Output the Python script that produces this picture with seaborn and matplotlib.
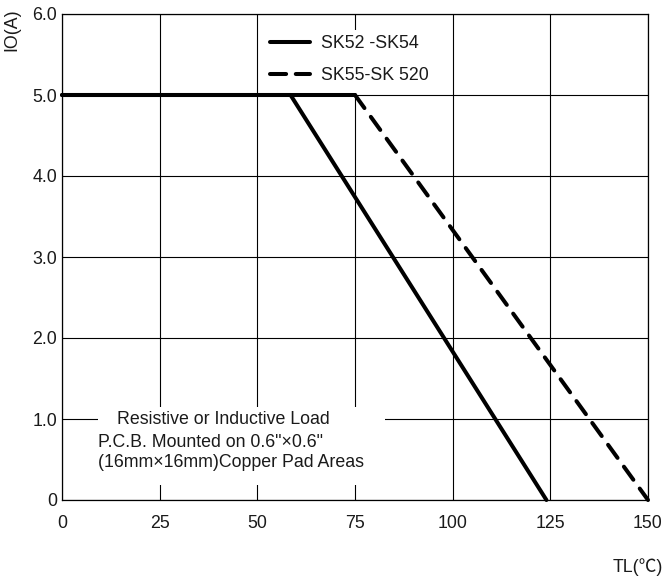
import matplotlib
matplotlib.use("Agg")
import matplotlib.pyplot as plt
import seaborn as sns
import pandas as pd
from matplotlib.lines import Line2D
from matplotlib.patches import Rectangle

# ---- data ----
sk52_x = [0, 58.5, 124]
sk52_y = [5.0, 5.0, 0.0]
sk55_x = [0, 75, 150]
sk55_y = [5.0, 5.0, 0.0]
x_ticks = [0, 25, 50, 75, 100, 125, 150]
y_ticks = [0, 1, 2, 3, 4, 5, 6]
y_tick_labels = ["0", "1.0", "2.0", "3.0", "4.0", "5.0", "6.0"]
legend_labels = ["SK52 -SK54", "SK55-SK 520"]
note_lines = ["Resistive or Inductive Load",
              "P.C.B. Mounted on 0.6\"\u00d70.6\"",
              "(16mm\u00d716mm)Copper Pad Areas"]

sns.set_style("white")
plt.rcParams['font.family'] = ['Liberation Sans', 'Noto Sans CJK SC', 'DejaVu Sans']
FS = 12.8
TXT = "#1a1a1a"

fig = plt.figure(figsize=(6.65, 5.86), dpi=100)
ax = fig.add_axes([62/665, 86/586, 586/665, 486/586])

df52 = pd.DataFrame({"x": sk52_x, "y": sk52_y})
df55 = pd.DataFrame({"x": sk55_x, "y": sk55_y})

LW = 2.9
sns.lineplot(data=df55.iloc[1:], x="x", y="y", ax=ax, color="black", lw=LW,
             sort=False, estimator=None, dashes=False, zorder=5)
ln = ax.lines[-1]
ln.set_linestyle((0, (4, 2.7)))
ln.set_dash_capstyle("round")
ln.set_clip_on(False)
sns.lineplot(data=df55.iloc[:2], x="x", y="y", ax=ax, color="black", lw=LW,
             sort=False, estimator=None, zorder=5)
ax.lines[-1].set_solid_capstyle("round"); ax.lines[-1].set_clip_on(False)
sns.lineplot(data=df52, x="x", y="y", ax=ax, color="black", lw=LW,
             sort=False, estimator=None, zorder=6)
ax.lines[-1].set_solid_capstyle("round"); ax.lines[-1].set_solid_joinstyle("round")
ax.lines[-1].set_clip_on(False)

ax.set_xlim(0, 150)
ax.set_ylim(0, 6)
ax.set_xticks(x_ticks)
ax.set_xticklabels([str(v) for v in x_ticks])
ax.set_yticks(y_ticks)
ax.set_yticklabels(y_tick_labels)
ax.tick_params(axis='both', length=0, labelsize=FS, labelcolor=TXT)
ax.tick_params(axis='x', pad=11)
ax.tick_params(axis='y', pad=3.5)
ax.set_xlabel("")
ax.set_ylabel("")
ax.grid(True, color="black", lw=0.8)
ax.set_axisbelow(True)
for s in ax.spines.values():
    s.set_color("black")
    s.set_linewidth(0.9)

# white boxes that interrupt the grid
ax.add_patch(Rectangle((50.3, 5.02), 49.3, 0.78, facecolor="white",
                       edgecolor="none", zorder=1))
ax.add_patch(Rectangle((9.2, 0.185), 73.5, 0.96, facecolor="white",
                       edgecolor="none", zorder=1))

# legend
handles = [Line2D([], [], color="black", lw=LW, solid_capstyle="round"),
           Line2D([], [], color="black", lw=LW, linestyle=(0, (4, 2.4)),
                  dash_capstyle="round")]
leg = ax.legend(handles, legend_labels, loc="upper left",
                bbox_to_anchor=(0.355, 0.957), frameon=False, fontsize=FS,
                handlelength=2.25, handletextpad=0.62, labelspacing=0.85,
                borderpad=0, borderaxespad=0)
for t in leg.get_texts():
    t.set_color(TXT)

# note text
ax.text(14.1, 0.988, note_lines[0], fontsize=FS, color=TXT, va="center", ha="left", zorder=3)
ax.text(9.2, 0.716, note_lines[1], fontsize=FS, color=TXT, va="center", ha="left", zorder=3)
ax.text(9.2, 0.469, note_lines[2], fontsize=FS, color=TXT, va="center", ha="left", zorder=3)

# axis labels
fig.text(12/665, 1 - 30/586, "IO(A)", rotation=90, fontsize=FS, color=TXT,
         ha="center", va="center")
fig.text(663/665, 1 - 567/586, "TL(\u2103)", fontsize=FS, color=TXT,
         ha="right", va="center")

fig.savefig("out.png", dpi=100)
